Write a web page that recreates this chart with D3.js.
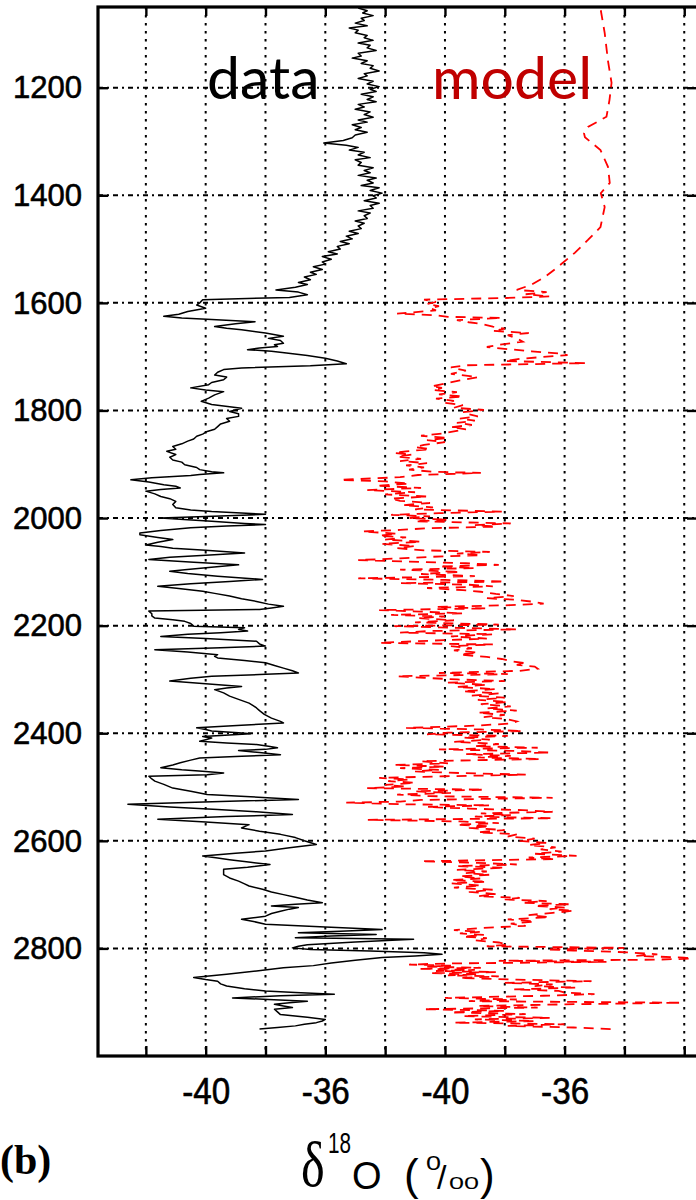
<!DOCTYPE html>
<html><head><meta charset="utf-8">
<script src="https://cdn.jsdelivr.net/npm/d3@7"></script>
<style>body{margin:0;background:#fff}svg{display:block}</style>
</head><body>
<svg id="c" width="696" height="1200"></svg>
<script>
// ---------- data ----------
const depthTicks = [1200,1400,1600,1800,2000,2200,2400,2600,2800];
const gridValues = [-42,-40,-38,-36,-34,-32,-30,-28,-26,-24];   // shared x grid (data units)
const dataTickLabels = [-40,-36];
const modelTickLabels = [-40,-36];
const modelOffset = 8;          // model panel is shifted 8 per mil to the right
const xDomain = [-43.6,-23.54];
const yDomain = [1050,3000];

// measured ice-core record  [depth, d18O]
const dataTop = [[1052,-34.9],[1057,-34.6],[1061,-34.75],[1066,-34.4],[1071,-34.8],[1075,-34.7],[1080,-35.0],[1085,-34.6],[1089,-35.2],[1093,-34.9],[1098,-35.0],[1103,-34.6],[1107,-34.7],[1112,-34.4],[1117,-34.9],[1121,-34.5],[1126,-34.6],[1131,-34.3],[1136,-34.9],[1141,-34.8],[1145,-35.1],[1150,-34.6],[1155,-34.8],[1159,-34.4],[1164,-34.5],[1169,-34.2],[1174,-34.7],[1178,-34.6],[1183,-34.9],[1188,-34.4],[1193,-34.6],[1198,-34.2],[1203,-34.5],[1207,-34.3],[1212,-34.8],[1217,-34.4],[1222,-34.6],[1226,-34.3],[1231,-34.9],[1236,-34.7],[1240,-35.0],[1245,-34.5],[1250,-34.7],[1255,-34.4],[1260,-34.9],[1264,-34.6],[1269,-35.1],[1274,-34.8],[1278,-35.0],[1283,-34.6],[1288,-35.0],[1293,-35.1],[1298,-35.4],[1303,-36.05],[1307,-35.3],[1311,-34.9],[1316,-35.2],[1320,-34.7],[1325,-34.9],[1330,-34.5],[1334,-35.0],[1339,-34.8],[1344,-34.9],[1349,-34.4],[1354,-34.7],[1358,-34.5],[1363,-34.9],[1368,-34.3],[1372,-34.6],[1377,-34.4],[1382,-34.8],[1386,-34.2],[1391,-34.5],[1396,-34.1],[1401,-34.4],[1405,-34.3],[1410,-34.7],[1415,-34.2],[1419,-34.5],[1424,-34.4],[1429,-34.9],[1433,-34.5],[1438,-34.7],[1443,-34.6],[1448,-35.0],[1452,-34.7],[1457,-34.9],[1462,-34.8],[1467,-35.2],[1471,-34.9],[1476,-35.3],[1481,-35.1],[1486,-35.5],[1490,-35.2],[1495,-35.6],[1500,-35.5],[1505,-35.9],[1509,-35.6],[1514,-36.1],[1519,-35.8],[1524,-36.1],[1528,-36.0],[1533,-36.4],[1538,-36.1],[1543,-36.5],[1547,-36.3],[1552,-36.7],[1557,-36.5],[1562,-36.9],[1566,-36.6],[1571,-37.0],[1576,-37.65],[1580,-36.9],[1585,-36.6],[1590,-37.2]];
const dataMid = [[1594,-40.1],[1600,-40.2],[1604,-40.3],[1610,-40.0],[1616,-40.6],[1621,-40.9],[1625,-41.4],[1628,-40.8],[1631,-39.8],[1635,-38.35],[1639,-39.0],[1644,-39.7],[1647,-39.3],[1650,-38.8],[1656,-38.0],[1662,-37.4],[1666,-37.9],[1670,-37.5],[1675,-37.4],[1678,-37.7],[1681,-37.6],[1684,-38.2],[1687,-38.6],[1690,-37.8],[1693,-37.3],[1698,-36.6],[1703,-36.0],[1708,-35.6],[1713,-35.3],[1717,-36.5],[1721,-38.8],[1724,-39.4],[1729,-39.6],[1734,-39.7],[1738,-39.3],[1743,-39.4],[1748,-39.8],[1752,-39.9],[1758,-40.5],[1762,-40.0],[1765,-39.4],[1771,-39.7],[1777,-39.9],[1783,-40.15],[1789,-39.8],[1796,-38.8],[1802,-39.2],[1806,-38.9],[1811,-38.9],[1815,-39.3],[1820,-39.2],[1825,-39.5],[1830,-39.6],[1835,-39.7],[1839,-39.95],[1844,-40.1],[1848,-40.3],[1853,-40.4],[1857,-40.6],[1862,-40.8],[1867,-41.1],[1872,-41.0],[1876,-41.3],[1882,-41.0],[1887,-41.2],[1892,-41.1],[1896,-40.8],[1901,-40.7],[1906,-40.3],[1910,-40.2],[1914,-39.8],[1916,-39.4],[1919,-40.2],[1921,-40.5],[1925,-41.8],[1929,-42.5],[1933,-41.9],[1938,-41.4],[1941,-41.0],[1944,-40.85],[1947,-41.5],[1950,-42.0],[1955,-41.7],[1960,-41.5],[1964,-41.2],[1969,-41.0],[1975,-41.1],[1981,-41.0],[1985,-40.5],[1988,-39.8],[1993,-38.0],[1996,-39.5],[2000,-41.5],[2003,-40.6],[2006,-39.8],[2010,-38.7],[2012,-38.0],[2015,-39.3],[2018,-40.5],[2023,-41.5],[2028,-42.2]];
const dataLow = [[2031,-42.2],[2036,-41.6],[2040,-41.1],[2045,-41.6],[2050,-42.0],[2053,-41.5],[2056,-41.1],[2060,-40.0],[2065,-38.7],[2069,-40.0],[2073,-41.2],[2077,-41.9],[2082,-40.4],[2087,-38.9],[2092,-39.9],[2096,-40.7],[2099,-41.2],[2103,-40.6],[2108,-39.6],[2114,-38.1],[2118,-39.2],[2122,-40.5],[2127,-41.6],[2131,-40.9],[2136,-40.1],[2140,-39.7],[2145,-39.2],[2150,-38.8],[2155,-38.3],[2160,-37.9],[2164,-37.4],[2167,-37.8],[2170,-38.2],[2173,-41.9],[2178,-41.8],[2182,-41.8],[2186,-41.7],[2189,-41.1],[2192,-40.7],[2196,-40.5],[2201,-40.4],[2204,-38.7],[2207,-38.9],[2210,-38.6],[2213,-39.5],[2216,-40.6],[2220,-41.5],[2224,-40.0],[2229,-38.3],[2234,-38.2],[2238,-38.0],[2241,-39.5],[2245,-41.7],[2249,-40.6],[2254,-39.6],[2257,-39.7],[2260,-39.6],[2265,-38.7],[2269,-38.0],[2274,-37.7],[2279,-37.4],[2284,-37.1],[2288,-36.9],[2291,-38.2],[2294,-39.8],[2298,-40.5],[2303,-41.2],[2308,-40.0],[2313,-38.8],[2316,-39.3],[2319,-39.7],[2325,-39.4],[2331,-39.2],[2337,-38.9],[2344,-38.55],[2349,-38.4],[2353,-38.3],[2358,-38.2],[2365,-38.04],[2372,-37.8],[2378,-37.5],[2381,-37.4],[2385,-38.8],[2390,-40.3],[2393,-40.0],[2396,-39.8],[2399,-38.9],[2401,-38.5],[2404,-39.5],[2406,-40.1],[2409,-39.8],[2412,-40.0],[2415,-40.2],[2418,-39.3],[2421,-38.3],[2424,-37.9],[2427,-37.6],[2430,-38.0],[2432,-38.9],[2436,-38.2],[2440,-37.5],[2443,-38.8],[2446,-40.2],[2450,-40.5],[2455,-40.85],[2459,-41.1],[2464,-41.5],[2468,-40.8],[2471,-40.0],[2474,-39.4],[2477,-39.95],[2480,-41.9],[2485,-41.8],[2489,-41.7],[2495,-41.4],[2502,-41.1],[2508,-40.5],[2514,-39.95],[2518,-38.5],[2523,-36.9],[2527,-39.5],[2532,-42.6],[2537,-41.2],[2542,-39.6],[2546,-38.3],[2551,-37.1],[2555,-39.3],[2560,-41.6],[2565,-40.0],[2570,-38.55],[2576,-38.8],[2582,-38.2],[2588,-37.5],[2594,-37.0],[2600,-36.7],[2607,-36.3],[2613,-37.2],[2619,-38.0],[2623,-39.0],[2628,-40.1],[2632,-39.6],[2635,-39.2],[2640,-38.5],[2644,-37.85],[2649,-38.6],[2653,-39.4],[2658,-39.4],[2663,-39.4],[2669,-39.2],[2675,-38.9]];
const dataBottom = [[2680,-38.7],[2684,-38.55],[2690,-38.1],[2695,-37.8],[2700,-37.4],[2705,-37.0],[2710,-36.6],[2715,-36.1],[2718,-37.0],[2721,-37.8],[2724,-36.9],[2727,-37.2],[2731,-37.5],[2735,-37.8],[2740,-38.0],[2743,-38.4],[2746,-38.8],[2750,-38.4],[2755,-38.0],[2760,-36.0],[2765,-34.1],[2768,-35.5],[2771,-36.9],[2774,-34.3],[2777,-35.8],[2780,-37.0],[2783,-33.05],[2788,-35.0],[2793,-36.6],[2796,-36.9],[2799,-37.1],[2802,-36.5],[2805,-34.5],[2808,-32.7],[2811,-32.1],[2814,-33.0],[2817,-34.1],[2822,-35.0],[2827,-35.8],[2832,-36.4],[2836,-37.4],[2842,-38.3],[2848,-39.3],[2854,-40.4],[2858,-40.0],[2861,-39.6],[2866,-39.5],[2870,-39.3],[2875,-38.7],[2879,-38.0],[2882,-37.0],[2885,-35.7],[2888,-37.5],[2892,-39.1],[2895,-37.9],[2898,-36.6],[2901,-37.2],[2904,-37.7],[2907,-37.4],[2910,-37.1],[2913,-37.7],[2918,-37.6],[2923,-37.5],[2928,-36.6],[2932,-36.0],[2935,-36.1],[2938,-36.3],[2941,-36.7],[2944,-37.0],[2947,-37.6],[2950,-38.2]];

// model simulation  [depth, d18O]
const modelTop = [[1056,-34.79],[1098,-34.66],[1150,-34.55],[1191,-34.43],[1223,-34.5],[1254,-34.6],[1273,-35.22],[1285,-35.35],[1292,-35.32],[1316,-34.8],[1347,-34.55],[1377,-34.49],[1396,-34.79],[1422,-34.66],[1459,-34.8],[1483,-35.22],[1507,-35.66],[1533,-36.22],[1552,-36.66],[1566,-37.1],[1576,-37.6],[1580,-36.6],[1584,-37.3],[1588,-36.5],[1591,-38.0]];
const modelMid = [[1594,-40.7],[1598,-40.3],[1602,-40.6],[1606,-40.2],[1610,-40.5],[1614,-40.3],[1620,-41.6],[1623,-40.3],[1626,-39.9],[1628,-38.1],[1632,-39.6],[1636,-39.2],[1640,-38.7],[1644,-38.4],[1648,-38.0],[1652,-38.4],[1656,-37.2],[1660,-37.9],[1666,-37.6],[1672,-37.4],[1678,-38.2],[1682,-38.6],[1686,-37.9],[1690,-37.1],[1694,-36.2],[1697,-35.9],[1700,-36.6],[1704,-37.5],[1708,-38.0],[1712,-35.3],[1716,-39.3],[1720,-39.8],[1726,-39.3],[1732,-39.8],[1738,-38.9],[1744,-39.5],[1750,-40.0],[1755,-40.45],[1758,-40.1],[1762,-40.4],[1766,-39.6],[1770,-40.2],[1774,-39.4],[1778,-40.3],[1782,-39.7],[1786,-40.0],[1790,-39.4],[1795,-39.7],[1799,-38.7],[1803,-39.4],[1807,-39.2],[1811,-38.9],[1815,-39.5],[1819,-39.0],[1823,-39.6],[1827,-39.1],[1831,-39.8],[1835,-39.3],[1839,-39.7],[1843,-40.1],[1847,-40.8],[1851,-39.9],[1855,-40.6],[1859,-40.0],[1864,-40.7],[1868,-41.0],[1872,-40.5],[1876,-41.3],[1879,-41.7],[1882,-41.1],[1886,-41.6],[1890,-40.8],[1894,-41.5],[1898,-40.6],[1902,-41.3],[1906,-40.7],[1910,-41.2],[1914,-40.4],[1916,-38.8],[1920,-40.9],[1924,-41.5],[1929,-43.5],[1932,-42.0],[1936,-41.2],[1940,-42.3],[1944,-40.8],[1948,-42.6],[1952,-41.0],[1956,-42.0],[1960,-40.6],[1964,-41.8],[1968,-41.5],[1972,-40.5],[1976,-41.4],[1980,-40.4],[1984,-41.0],[1988,-38.1],[1991,-40.2],[1994,-41.8],[1997,-40.5],[2000,-41.2],[2003,-39.9],[2006,-41.0],[2010,-37.8],[2013,-39.0],[2016,-38.3],[2019,-40.6],[2022,-41.5],[2025,-42.75],[2029,-41.6],[2033,-42.2],[2036,-41.3],[2040,-42.0],[2044,-40.8],[2048,-42.1],[2052,-41.0],[2056,-41.6],[2060,-40.7],[2063,-38.5],[2066,-39.6],[2069,-38.8],[2072,-40.4],[2075,-41.5],[2078,-42.9],[2081,-41.2],[2084,-39.3],[2087,-38.2],[2090,-40.2],[2093,-39.0],[2096,-41.5],[2100,-39.5],[2104,-40.8],[2108,-39.0],[2112,-42.9],[2115,-40.0],[2118,-38.0],[2121,-41.5],[2124,-39.2],[2127,-38.4],[2130,-40.6],[2134,-39.4],[2137,-38.8],[2141,-38.3],[2145,-37.7],[2149,-38.6],[2152,-37.6],[2156,-37.0],[2159,-36.7],[2162,-37.8],[2165,-40.3],[2168,-38.6],[2171,-42.2],[2174,-40.8],[2177,-39.4],[2180,-41.8],[2183,-40.0],[2186,-40.9],[2190,-39.7],[2194,-41.0],[2198,-38.2],[2201,-41.7],[2204,-39.6],[2207,-37.6],[2210,-40.5],[2213,-41.5],[2216,-38.4],[2220,-39.8],[2224,-38.6],[2228,-40.5],[2232,-42.2],[2235,-38.4],[2238,-39.8],[2242,-39.1],[2246,-39.7],[2250,-38.9],[2254,-39.5],[2258,-38.6],[2262,-38.1],[2266,-37.8],[2270,-37.3],[2273,-37.6],[2276,-37.0],[2280,-36.9],[2284,-37.5],[2288,-40.2],[2290,-37.9],[2292,-39.5],[2294,-41.6],[2297,-40.7],[2300,-39.6],[2303,-38.0],[2306,-39.9],[2310,-38.6],[2314,-39.6],[2318,-38.3],[2322,-39.4],[2326,-38.2],[2330,-39.1],[2334,-38.0],[2338,-38.9],[2342,-37.9],[2346,-38.8],[2350,-37.8],[2354,-38.6],[2358,-37.6],[2362,-38.9],[2366,-38.0],[2370,-38.7],[2374,-37.9],[2378,-37.6],[2382,-37.8],[2386,-39.0],[2390,-41.3],[2393,-38.8],[2396,-37.4],[2399,-39.9],[2402,-40.6],[2405,-37.9],[2408,-39.4],[2412,-38.5],[2416,-39.7],[2420,-38.2],[2424,-39.0],[2427,-36.9],[2430,-40.2],[2433,-37.6],[2436,-36.5],[2439,-39.3],[2442,-37.8],[2445,-38.9],[2448,-36.8],[2452,-40.8],[2456,-39.9],[2459,-41.7],[2462,-40.0],[2465,-41.5],[2468,-40.2],[2471,-41.0],[2474,-39.5],[2477,-37.3],[2480,-40.0],[2483,-42.2],[2486,-41.2],[2489,-41.9],[2492,-41.0],[2496,-42.0],[2499,-41.3],[2502,-42.6],[2505,-38.7],[2508,-41.0],[2511,-39.8],[2514,-41.6],[2517,-40.5],[2520,-36.4],[2524,-40.8],[2527,-41.5],[2529,-43.3],[2532,-41.5],[2534,-38.5],[2537,-40.6],[2540,-39.2],[2543,-37.4],[2546,-36.4],[2549,-38.8],[2552,-37.8],[2555,-39.0],[2558,-36.4],[2561,-42.6],[2564,-39.5],[2567,-38.2],[2570,-39.6],[2573,-38.5],[2576,-39.2],[2580,-38.0],[2584,-38.9],[2588,-37.6],[2592,-37.9],[2596,-37.0],[2600,-37.5],[2604,-36.6],[2608,-37.2],[2612,-36.3],[2616,-36.8],[2620,-36.1],[2624,-37.0],[2628,-35.6],[2631,-37.2],[2634,-36.3],[2638,-40.8],[2641,-38.9],[2644,-37.6],[2647,-39.6],[2650,-38.0],[2654,-39.6],[2657,-38.6],[2660,-39.3],[2663,-38.5],[2666,-39.5],[2670,-38.8]];
const modelBottom = [[2673,-39.8],[2676,-38.6],[2679,-39.8],[2683,-38.8],[2687,-39.7],[2691,-38.4],[2695,-39.2],[2699,-38.3],[2703,-38.9],[2706,-37.5],[2709,-38.0],[2712,-36.6],[2715,-37.4],[2718,-35.8],[2721,-37.0],[2724,-36.0],[2727,-36.5],[2730,-35.7],[2734,-36.4],[2738,-37.2],[2742,-36.5],[2746,-37.9],[2750,-37.0],[2754,-37.8],[2758,-37.3],[2762,-38.8],[2766,-39.7],[2769,-38.8],[2772,-39.5],[2775,-38.7],[2778,-39.4],[2781,-38.6],[2785,-39.0],[2789,-38.2],[2793,-37.9],[2796,-38.6],[2799,-34.0],[2802,-36.6],[2804,-35.7],[2806,-34.5],[2808,-33.7],[2811,-32.9],[2814,-33.6],[2817,-32.0],[2819,-31.75],[2821,-33.0],[2823,-38.2],[2825,-34.6],[2828,-39.9],[2830,-41.2],[2832,-39.8],[2834,-40.6],[2836,-38.8],[2838,-40.9],[2840,-39.0],[2842,-40.3],[2844,-38.3],[2846,-40.5],[2848,-38.9],[2850,-39.9],[2852,-38.2],[2855,-39.5],[2858,-37.6],[2861,-35.1],[2864,-38.0],[2867,-36.4],[2870,-37.0],[2873,-35.6],[2876,-37.7],[2879,-36.2],[2882,-36.0],[2885,-35.0],[2888,-36.7],[2892,-40.0],[2895,-37.6],[2898,-39.2],[2901,-32.1],[2904,-36.0],[2907,-38.9],[2910,-36.9],[2913,-40.7],[2916,-38.0],[2919,-39.8],[2922,-37.3],[2926,-39.4],[2929,-36.5],[2932,-39.0],[2935,-37.0],[2938,-39.7],[2941,-36.0],[2944,-37.9],[2947,-35.7],[2950,-34.4]];

const dataSeries = dataTop.concat(dataMid, dataLow, dataBottom);
const modelSeries = modelTop.concat(modelMid, modelBottom);

// ---------- layout ----------
const L = 98, R = 698, T = 7, B = 1056;
const svg = d3.select("#c");
const x = d3.scaleLinear().domain(xDomain).range([L, R]);
const y = d3.scaleLinear().domain(yDomain).range([T, B]);

svg.append("defs").append("clipPath").attr("id","clip")
  .append("rect").attr("x",L).attr("y",T).attr("width",R-L).attr("height",B-T);

// grid
const grid = svg.append("g").attr("stroke","#000").attr("stroke-width",2);
grid.selectAll("line.v").data(gridValues).join("line").attr("class","v")
  .attr("x1",d=>x(d)).attr("x2",d=>x(d)).attr("y1",T).attr("y2",B)
  .attr("stroke-dasharray","2.5,5.5");
grid.selectAll("line.h").data(depthTicks).join("line").attr("class","h")
  .attr("x1",L).attr("x2",R).attr("y1",d=>y(d)).attr("y2",d=>y(d))
  .attr("stroke-dasharray","5,4,2,4");

// series
const plot = svg.append("g").attr("clip-path","url(#clip)");
const line = d3.line().x(d=>x(d[1])).y(d=>y(d[0]));
const modelLine = d3.line().x(d=>x(d[1] + modelOffset)).y(d=>y(d[0]));
plot.append("path").datum(modelSeries).attr("d",modelLine)
  .attr("fill","none").attr("stroke","#ff0000").attr("stroke-width",1.8)
  .attr("stroke-dasharray","10,7");
plot.append("path").datum(dataSeries).attr("d",line)
  .attr("fill","none").attr("stroke","#000").attr("stroke-width",1.5)
  .attr("stroke-linejoin","round");

// axes
const tickLabel = d => dataTickLabels.includes(d) ? String(d)
  : (modelTickLabels.includes(d - modelOffset) ? String(d - modelOffset) : "");
const axB = svg.append("g").attr("transform",`translate(0,${B})`)
  .call(d3.axisBottom(x).tickValues(gridValues).tickSize(-10).tickSizeOuter(0).tickPadding(22).tickFormat(tickLabel));
const axT = svg.append("g").attr("transform",`translate(0,${T})`)
  .call(d3.axisTop(x).tickValues(gridValues).tickSize(-9).tickSizeOuter(0).tickFormat(""));
const axL = svg.append("g").attr("transform",`translate(${L},0)`)
  .call(d3.axisLeft(y).tickValues(depthTicks).tickSize(-10).tickSizeOuter(0).tickPadding(16).tickFormat(d=>String(d)));
const axR = svg.append("g").attr("transform",`translate(${R},0)`)
  .call(d3.axisRight(y).tickValues(depthTicks).tickSize(-11).tickSizeOuter(0).tickFormat(""));
[axB,axT,axL,axR].forEach(a=>{
  a.select(".domain").remove();
  a.selectAll(".tick line").attr("stroke","#000").attr("stroke-width",2.4);
});
axL.selectAll("text").attr("font-family","'Liberation Sans',Arial,sans-serif").attr("font-size",32)
  .attr("fill","#000").attr("stroke","#000").attr("stroke-width",0.6).attr("textLength",69).attr("lengthAdjust","spacingAndGlyphs");
axB.selectAll("text").attr("font-family","'Liberation Sans',Arial,sans-serif").attr("font-size",37)
  .attr("fill","#000").attr("stroke","#000").attr("stroke-width",0.6)
  .each(function(){ const t=d3.select(this); if(t.text()) t.attr("textLength",48).attr("lengthAdjust","spacingAndGlyphs"); });

// frame
svg.append("rect").attr("x",L).attr("y",T).attr("width",R-L).attr("height",B-T)
  .attr("fill","none").attr("stroke","#000").attr("stroke-width",3.2);

// panel labels
svg.append("text").attr("x",207).attr("y",99).attr("font-family","Lato,'Open Sans',sans-serif")
  .attr("font-size",59).attr("fill","#000").text("data");
svg.append("text").attr("x",432).attr("y",99).attr("font-family","Lato,'Open Sans',sans-serif")
  .attr("font-size",59).attr("fill","#c00000").text("model");

// axis title  δ18O (0/00)
const sans = "'Liberation Sans',Arial,sans-serif";
const serif = "'Liberation Serif','Times New Roman',serif";
const title = svg.append("g").attr("fill","#000");
title.append("text").attr("transform","translate(301,1186) scale(0.95,1.2)").attr("font-family",serif)
  .attr("font-size",53).text("δ");
title.append("text").attr("x",328).attr("y",1153).attr("font-family",sans).attr("font-size",30)
  .attr("textLength",23).attr("lengthAdjust","spacingAndGlyphs").text("18");
title.append("text").attr("x",352).attr("y",1189).attr("font-family",sans).attr("font-size",38).text("O");
title.append("text").attr("x",404).attr("y",1190).attr("font-family",sans).attr("font-size",44).text("(");
title.append("text").attr("x",426).attr("y",1170).attr("font-family",sans).attr("font-size",20)
  .attr("textLength",15).attr("lengthAdjust","spacingAndGlyphs").text("0");
title.append("text").attr("x",437).attr("y",1189).attr("font-family",sans).attr("font-size",34).text("/");
title.append("text").attr("x",449).attr("y",1189).attr("font-family",sans).attr("font-size",16)
  .attr("textLength",30).attr("lengthAdjust","spacingAndGlyphs").text("00");
title.append("text").attr("x",480).attr("y",1190).attr("font-family",sans).attr("font-size",44).text(")");

svg.append("text").attr("x",0).attr("y",1174).attr("font-family",serif).attr("font-weight","bold")
  .attr("font-size",42).attr("fill","#000").text("(b)");
</script>
</body></html>
